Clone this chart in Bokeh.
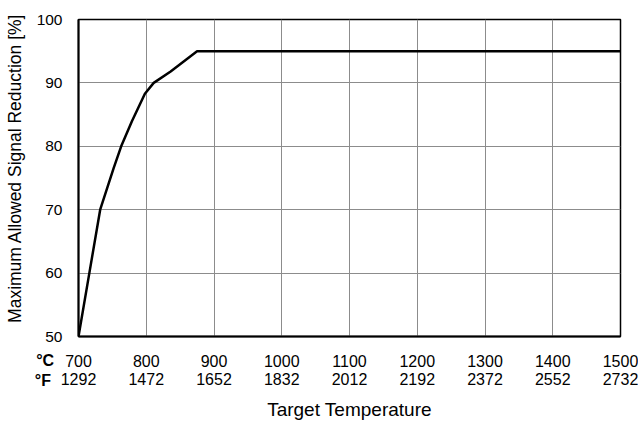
from bokeh.plotting import figure
from bokeh.models import Range1d, LinearAxis, FixedTicker
from bokeh.embed import file_html
from bokeh.resources import INLINE

# data
temp_c = [700, 716, 732, 752, 763, 779, 798, 811, 836, 875, 1500]
reduction = [50, 60, 70, 76.6, 80, 84, 88.3, 90, 91.8, 95, 95]
c_ticks = [700, 800, 900, 1000, 1100, 1200, 1300, 1400, 1500]
f_labels = ["1292", "1472", "1652", "1832", "2012", "2192", "2372", "2552", "2732"]
y_ticks = [50, 60, 70, 80, 90, 100]
unit_c = "°C"
unit_f = "°F"

FONT = "Liberation Sans"
NB = "\u00a0"

p = figure(width=638, height=423, output_backend="svg", toolbar_location=None,
           x_range=Range1d(700, 1500), y_range=Range1d(50, 100),
           min_border_left=78, min_border_right=18, min_border_top=19, min_border_bottom=87,
           x_axis_location=None)

p.line(temp_c, reduction, line_color="black", line_width=2.5)

p.outline_line_color = "black"
p.outline_line_width = 1.5
p.outline_line_alpha = 1
p.background_fill_color = "white"
p.border_fill_color = "white"

p.xgrid.grid_line_color = "#8c8c8c"
p.ygrid.grid_line_color = "#8c8c8c"
p.xgrid.grid_line_width = 1
p.ygrid.grid_line_width = 1

# y axis
ya = p.yaxis[0]
ya.ticker = FixedTicker(ticks=y_ticks)
ya.axis_label = NB * 4 + "Maximum Allowed Signal Reduction [%]"
ya.axis_label_text_font = FONT
ya.axis_label_text_font_size = "17.5px"
ya.axis_label_text_font_style = "normal"
ya.axis_label_text_color = "black"
ya.axis_label_standoff = 9
ya.major_label_text_font = FONT
ya.major_label_text_font_size = "15.5px"
ya.major_label_text_color = "black"
ya.major_tick_line_color = None
ya.minor_tick_line_color = None
ya.major_label_standoff = 10
ya.axis_line_color = "black"
ya.axis_line_width = 2


def x_axis(ticks, standoff, overrides=None, bold=False, line=False):
    ax = LinearAxis(ticker=FixedTicker(ticks=ticks))
    if overrides:
        ax.major_label_overrides = overrides
    ax.major_label_text_font = FONT
    ax.major_label_text_font_size = "16px"
    ax.major_label_text_font_style = "bold" if bold else "normal"
    ax.major_label_text_color = "black"
    ax.major_tick_line_color = None
    ax.minor_tick_line_color = None
    ax.major_label_standoff = standoff
    if line:
        ax.axis_line_color = "black"
        ax.axis_line_width = 2
    else:
        ax.axis_line_color = None
    p.add_layout(ax, "below")
    return ax


# row 1: °C values, with bold unit overlapping the same row
x_axis(c_ticks, 12, line=True)
x_axis([c_ticks[0]], -24, {c_ticks[0]: unit_c + NB * 15}, bold=True)
# row 2: °F unit, then °F values overlapping the same row
x_axis([c_ticks[0]], -6, {c_ticks[0]: unit_f + NB * 16}, bold=True)
xf = x_axis(c_ticks, -25, {t: f for t, f in zip(c_ticks, f_labels)})
xf.axis_label = "Target Temperature"
xf.axis_label_text_font = FONT
xf.axis_label_text_font_size = "19px"
xf.axis_label_text_font_style = "normal"
xf.axis_label_text_color = "black"
xf.axis_label_standoff = 11

open("out.html", "w").write(file_html(p, INLINE))
